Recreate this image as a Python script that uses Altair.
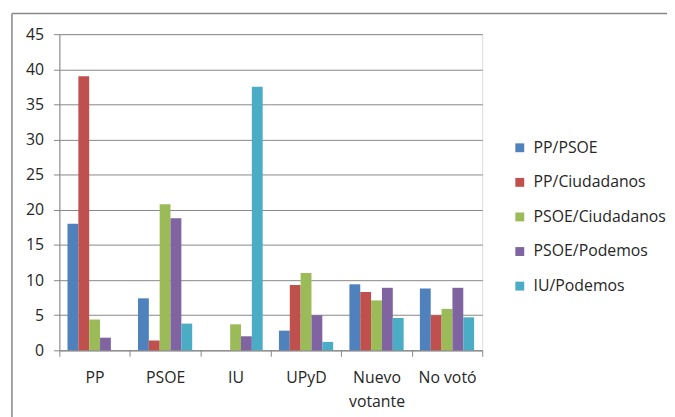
import altair as alt
import pandas as pd

categories = ["PP", "PSOE", "IU", "UPyD", "Nuevo votante", "No votó"]
series = ["PP/PSOE", "PP/Ciudadanos", "PSOE/Ciudadanos", "PSOE/Podemos", "IU/Podemos"]
pp_psoe = [18.0, 7.4, 0.0, 2.8, 9.4, 8.8]
pp_ciudadanos = [39.0, 1.4, 0.0, 9.3, 8.3, 5.0]
psoe_ciudadanos = [4.4, 20.8, 3.7, 11.0, 7.1, 5.9]
psoe_podemos = [1.8, 18.8, 2.0, 5.0, 8.9, 8.9]
iu_podemos = [0.0, 3.8, 37.5, 1.2, 4.6, 4.7]
colors = ["#4F81BD", "#C0504D", "#9BBB59", "#8064A2", "#4BACC6"]

rows = []
for s, vals in zip(series, [pp_psoe, pp_ciudadanos, psoe_ciudadanos, psoe_podemos, iu_podemos]):
    for c, v in zip(categories, vals):
        rows.append({"cat": c, "serie": s, "valor": v})
df = pd.DataFrame(rows)

FONT = "Open Sans"
TXT = "#262626"
GRID = "#868686"

bars = alt.Chart(df).mark_bar().encode(
    x=alt.X("cat:N", sort=categories, title=None,
            scale=alt.Scale(paddingInner=0, paddingOuter=0),
            axis=alt.Axis(labelAngle=0, tickBand="extent", tickSize=6, tickColor=GRID,
                          domainColor=GRID, labelFont=FONT, labelFontSize=16,
                          labelColor=TXT, labelPadding=14, labelLineHeight=24,
                          labelExpr="datum.label == 'Nuevo votante' ? ['Nuevo', 'votante'] : datum.label")),
    xOffset=alt.XOffset("serie:N", sort=series,
                        scale=alt.Scale(paddingInner=0, paddingOuter=0.75)),
    y=alt.Y("valor:Q", title=None,
            scale=alt.Scale(domain=[0, 45], nice=False),
            axis=alt.Axis(values=list(range(0, 50, 5)), grid=True, gridColor=GRID,
                          gridOpacity=1, tickColor=GRID, tickSize=6, domainColor=GRID,
                          labelFont=FONT, labelFontSize=16, labelColor=TXT,
                          labelPadding=10)),
    color=alt.Color("serie:N", sort=series,
                    scale=alt.Scale(domain=series, range=colors),
                    legend=alt.Legend(title=None, orient="none", legendX=458, legendY=107,
                                      symbolType="square", symbolSize=81,
                                      symbolStrokeWidth=0, labelFont=FONT,
                                      labelFontSize=16, labelColor=TXT,
                                      rowPadding=19, labelOffset=6)),
)

border_left = alt.Chart().mark_rule(color=GRID, strokeWidth=1.5).encode(
    x=alt.value(-48), y=alt.value(-21), y2=alt.value(390))
border_top = alt.Chart().mark_rule(color=GRID, strokeWidth=1.5).encode(
    x=alt.value(-48), x2=alt.value(620), y=alt.value(-21))

chart = alt.layer(bars, border_left, border_top).properties(
    width=428, height=320,
    autosize=alt.AutoSizeParams(type="none"),
    padding={"left": 52, "top": 24, "right": 187, "bottom": 65},
).configure_view(stroke=None).configure(background="white")

chart.save("out.html", embed_options={"renderer": "svg", "actions": False})
